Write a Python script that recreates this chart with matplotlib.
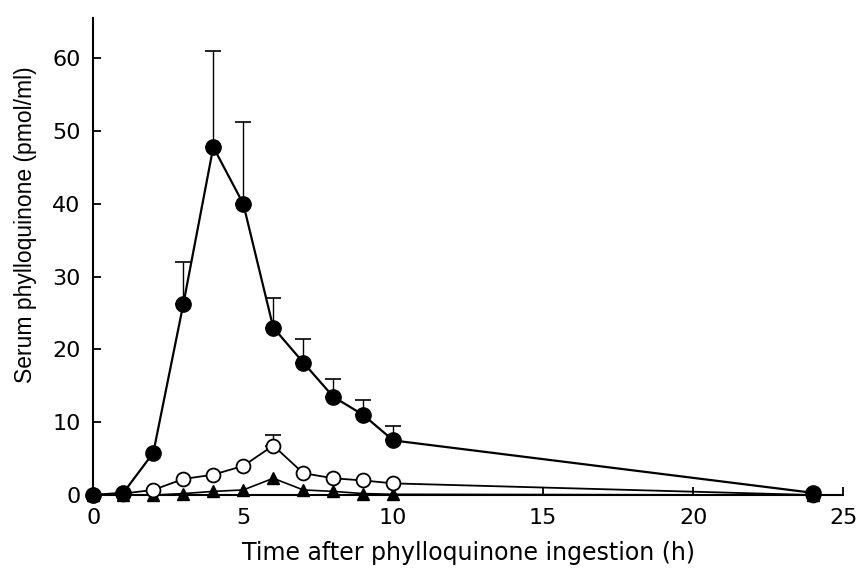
import matplotlib.pyplot as plt
import numpy as np

plt.rcParams['font.family'] = ['Liberation Sans', 'DejaVu Sans']

t = [0, 1, 2, 3, 4, 5, 6, 7, 8, 9, 10, 24]

filled = [0, 0.3, 5.8, 26.2, 47.8, 40.0, 23.0, 18.2, 13.5, 11.0, 7.5, 0.3]
filled_err = [0, 0, 0, 5.8, 13.2, 11.3, 4.0, 3.3, 2.5, 2.0, 2.0, 0]

open_c = [0, 0.2, 0.7, 2.2, 2.8, 4.0, 6.8, 3.0, 2.3, 2.0, 1.6, 0]
open_err = [0, 0, 0, 0, 0, 0, 1.5, 0, 0, 0, 0, 0]

tri = [0, 0, 0, 0.2, 0.5, 0.7, 2.3, 0.7, 0.5, 0.2, 0.1, 0]

fig = plt.figure(figsize=(8.56, 5.69), dpi=100)
ax = fig.add_axes([0.109, 0.130, 0.876, 0.838])

def up_err(x, y, e):
    x = np.array(x); y = np.array(y); e = np.array(e)
    m = e > 0
    ax.errorbar(x[m], y[m], yerr=[np.zeros(m.sum()), e[m]], fmt='none',
                ecolor='black', elinewidth=1.0, capsize=5.5, capthick=1.2, zorder=2)

up_err(t, filled, filled_err)
up_err(t, open_c, open_err)

ax.plot(t, tri, color='black', lw=1.2, marker='^', ms=9, mfc='black', mec='black', zorder=3)
ax.plot(t, open_c, color='black', lw=1.3, marker='o', ms=10, mfc='white', mec='black', mew=1.3, zorder=4)
ax.plot(t, filled, color='black', lw=1.6, marker='o', ms=11, mfc='black', mec='black', zorder=5)

ax.set_xlim(0, 25)
ax.set_ylim(0, 65.5)
ax.set_xticks([0, 5, 10, 15, 20, 25])
ax.set_yticks([0, 10, 20, 30, 40, 50, 60])
ax.spines['top'].set_visible(False)
ax.spines['right'].set_visible(False)
ax.spines['left'].set_linewidth(1.5)
ax.spines['bottom'].set_linewidth(1.5)
for s in ax.spines.values():
    s.set_clip_on(False)
ax.tick_params(direction='in', length=6, width=1.3)
ax.tick_params(axis='x', pad=9)
ax.tick_params(axis='y', pad=9)
for lab in ax.get_xticklabels() + ax.get_yticklabels():
    lab.set_family('DejaVu Sans')
    lab.set_fontsize(16)
ax.set_xlabel('Time after phylloquinone ingestion (h)', fontsize=17,
              family='DejaVu Sans', labelpad=10)
ax.set_ylabel('Serum phylloquinone (pmol/ml)', fontsize=16.5)
ax.yaxis.set_label_coords(-0.075, 0.568)

for m in ax.lines:
    m.set_clip_on(False)

fig.savefig('out.png', dpi=100)
